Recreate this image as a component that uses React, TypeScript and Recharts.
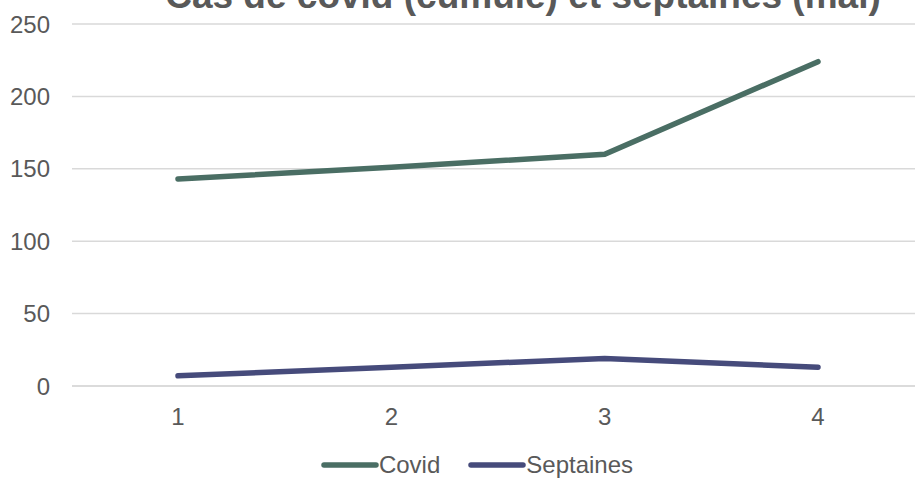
import { LineChart, Line, XAxis, YAxis, CartesianGrid, Legend } from 'recharts'

const weeks = ['1', '2', '3', '4']
const covid = [143, 151, 160, 224]
const septaines = [7, 13, 19, 13]
const yTicks = [0, 50, 100, 150, 200, 250]

const data = weeks.map((w, i) => ({ week: w, covid: covid[i], septaines: septaines[i] }))

const series = [
  { key: 'covid', name: 'Covid', color: '#4a6e64' },
  { key: 'septaines', name: 'Septaines', color: '#464b7b' },
]

const font = '"Liberation Sans", Arial, sans-serif'

function LegendContent() {
  return (
    <div
      style={{
        height: 52,
        boxSizing: 'border-box',
        paddingTop: 26,
        display: 'flex',
        justifyContent: 'center',
        gap: 28,
        fontFamily: font,
        fontSize: 24,
        lineHeight: '24px',
        color: '#595959',
        marginLeft: 30,
      }}
    >
      {series.map((s) => (
        <div key={s.key} style={{ display: 'flex', alignItems: 'center' }}>
          <svg width={58} height={10}>
            <line x1={3} y1={5} x2={55} y2={5} stroke={s.color} strokeWidth={5.5} strokeLinecap="round" />
          </svg>
          <span>{s.name}</span>
        </div>
      ))}
    </div>
  )
}

export default function App() {
  return (
    <div style={{ position: 'absolute', left: 0, top: 0, width: 915, height: 478, overflow: 'hidden', background: '#fff' }}>
      <LineChart width={940} height={478} data={data} margin={{ top: 24, right: 16, bottom: 0, left: 0 }}>
        <CartesianGrid vertical={false} stroke="#d9d9d9" strokeWidth={1.5} />
        <XAxis
          dataKey="week"
          padding={{ left: 106, right: 106 }}
          axisLine={{ stroke: '#d9d9d9', strokeWidth: 1.5 }}
          tickLine={false}
          tickSize={0}
          tickMargin={22}
          height={40}
          tick={{ fill: '#595959', fontSize: 24, fontFamily: font }}
        />
        <YAxis
          domain={[0, 250]}
          ticks={yTicks}
          width={72}
          axisLine={false}
          tickLine={false}
          tickSize={0}
          tickMargin={22}
          tick={{ fill: '#595959', fontSize: 24, fontFamily: font }}
        />
        <Legend verticalAlign="bottom" height={52} content={<LegendContent />} />
        {series.map((s) => (
          <Line
            key={s.key}
            dataKey={s.key}
            name={s.name}
            stroke={s.color}
            strokeWidth={5.5}
            strokeLinecap="round"
            dot={false}
            isAnimationActive={false}
          />
        ))}
      </LineChart>
      <svg width={915} height={40} style={{ position: 'absolute', left: 0, top: 0 }}>
        <text x={523} y={8} textAnchor="middle" fontFamily={font} fontWeight="bold" fontSize={37} fill="#595959">
          Cas de covid (cumulé) et septaines (mai)
        </text>
      </svg>
    </div>
  )
}
